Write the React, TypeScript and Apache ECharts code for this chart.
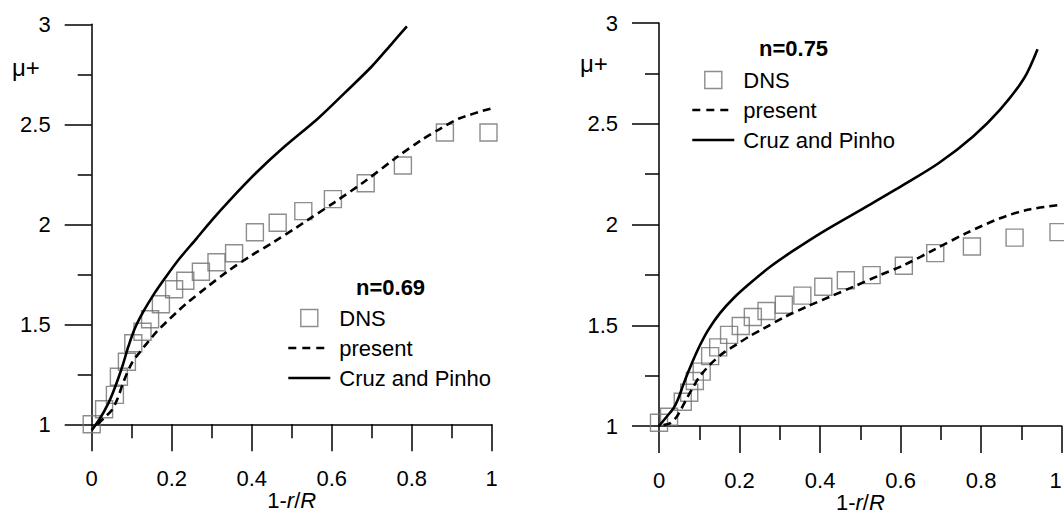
import React, { useEffect, useRef } from 'react';
import * as echarts from 'echarts';

const FONT = 'Liberation Sans, Arial, Helvetica, sans-serif';
const FS = 22;

// Panel titles
const panelTitles = ['n=0.69', 'n=0.75'];
const seriesNames = ['DNS', 'present', 'Cruz and Pinho'];

// ---- Panel 1 (n = 0.69) ----
const dnsX69 = [0, 0.031, 0.058, 0.068, 0.088, 0.104, 0.127, 0.146, 0.173, 0.206, 0.234, 0.273, 0.312, 0.356, 0.408, 0.465, 0.529, 0.603, 0.685, 0.778, 0.883, 0.992];
const dnsY69 = [1.0, 1.075, 1.147, 1.238, 1.313, 1.405, 1.463, 1.525, 1.6, 1.675, 1.718, 1.763, 1.81, 1.855, 1.96, 2.008, 2.066, 2.126, 2.205, 2.294, 2.459, 2.459];

const presX69 = [0.015, 0.03, 0.05, 0.065, 0.08, 0.1, 0.121, 0.1415, 0.1625, 0.1875, 0.2125, 0.2375, 0.2875, 0.3415, 0.3975, 0.454, 0.5125, 0.5375, 0.607, 0.683, 0.759, 0.827, 0.869, 0.92, 1.0];
const presY69 = [1.0, 1.03, 1.07, 1.13, 1.215, 1.305, 1.363, 1.413, 1.463, 1.513, 1.56, 1.605, 1.685, 1.767, 1.842, 1.91, 1.985, 2.018, 2.11, 2.215, 2.33, 2.425, 2.475, 2.53, 2.58];

const cruzX69 = [0, 0.021, 0.0415, 0.054, 0.0665, 0.079, 0.0915, 0.108, 0.129, 0.154, 0.183, 0.22, 0.2625, 0.3, 0.345, 0.4125, 0.48, 0.565, 0.632, 0.7, 0.751, 0.788];
const cruzY69 = [0.97, 1.03, 1.105, 1.163, 1.23, 1.305, 1.388, 1.48, 1.563, 1.646, 1.73, 1.83, 1.93, 2.02, 2.12, 2.26, 2.385, 2.528, 2.656, 2.789, 2.905, 2.99];

// ---- Panel 2 (n = 0.75) ----
const dnsX75 = [0, 0.025, 0.059, 0.075, 0.089, 0.106, 0.127, 0.147, 0.174, 0.203, 0.233, 0.267, 0.31, 0.356, 0.408, 0.464, 0.528, 0.608, 0.686, 0.777, 0.883, 0.992];
const dnsY75 = [1.016, 1.046, 1.12, 1.165, 1.223, 1.27, 1.347, 1.39, 1.452, 1.496, 1.541, 1.571, 1.602, 1.647, 1.691, 1.723, 1.749, 1.795, 1.858, 1.891, 1.935, 1.962];

const presX75 = [0.011, 0.027, 0.044, 0.056, 0.069, 0.081, 0.098, 0.118, 0.139, 0.164, 0.193, 0.226, 0.259, 0.309, 0.367, 0.425, 0.4825, 0.549, 0.61, 0.686, 0.763, 0.847, 0.915, 1.0];
const presY75 = [1.005, 1.013, 1.046, 1.088, 1.137, 1.179, 1.237, 1.286, 1.328, 1.369, 1.405, 1.447, 1.483, 1.538, 1.592, 1.642, 1.691, 1.749, 1.8, 1.878, 1.957, 2.031, 2.073, 2.098];

const cruzX75 = [0, 0.019, 0.036, 0.048, 0.06, 0.073, 0.085, 0.102, 0.122, 0.151, 0.185, 0.226, 0.276, 0.3335, 0.408, 0.525, 0.61, 0.695, 0.78, 0.847, 0.907, 0.94];
const cruzY75 = [1.0, 1.046, 1.088, 1.137, 1.203, 1.27, 1.328, 1.402, 1.476, 1.559, 1.634, 1.708, 1.79, 1.87, 1.965, 2.1, 2.2, 2.305, 2.437, 2.57, 2.727, 2.87];

const zip = (xs: number[], ys: number[]) => xs.map((x, i) => [x, ys[i]]);

const axisLineStyle = { color: '#000', width: 1.5 };

const mkX = (gridIndex: number, alignMax?: string) => ({
  type: 'value',
  gridIndex,
  min: 0,
  max: 1,
  interval: 0.2,
  axisLine: { show: true, onZero: false, lineStyle: axisLineStyle },
  axisTick: { show: true, inside: false, length: 27, lineStyle: axisLineStyle },
  minorTick: { show: true, splitNumber: 2, length: 14, lineStyle: axisLineStyle },
  splitLine: { show: false },
  minorSplitLine: { show: false },
  axisLabel: { margin: 43, fontSize: FS, color: '#000', fontFamily: FONT, ...(alignMax ? { alignMaxLabel: alignMax } : {}) },
  name: '{a|1-}{i|r}{a|/}{i|R}',
  nameLocation: 'middle',
  nameGap: 67,
  nameMoveOverlap: false,
  nameTextStyle: {
    fontSize: FS,
    color: '#000',
    fontFamily: FONT,
    rich: {
      a: { fontSize: FS, color: '#000', fontFamily: FONT, lineHeight: 18 },
      i: { fontSize: FS, color: '#000', fontFamily: FONT, fontStyle: 'italic', lineHeight: 18 },
    },
  },
});

const mkY = (gridIndex: number) => ({
  type: 'value',
  gridIndex,
  min: 1,
  max: 3,
  interval: 0.5,
  axisLine: { show: true, onZero: false, lineStyle: axisLineStyle },
  axisTick: { show: true, inside: false, length: 27, lineStyle: axisLineStyle },
  minorTick: { show: true, splitNumber: 2, length: 14, lineStyle: axisLineStyle },
  splitLine: { show: false },
  minorSplitLine: { show: false },
  axisLabel: { margin: 41, fontSize: FS, color: '#000', fontFamily: FONT },
});

const squareStyle = { color: 'rgba(0,0,0,0)', borderColor: '#707070', borderWidth: 1.4 };
const hiddenSymbol = { color: 'rgba(0,0,0,0)', borderColor: 'rgba(0,0,0,0)', borderWidth: 0 };

const mkSeries = (idx: number, dns: number[][], pres: number[][], cruz: number[][]) => [
  {
    name: seriesNames[0],
    type: 'scatter',
    xAxisIndex: idx,
    yAxisIndex: idx,
    symbol: 'rect',
    symbolSize: 17,
    itemStyle: squareStyle,
    clip: false,
    z: 2,
    silent: true,
    data: dns,
  },
  {
    name: seriesNames[1],
    type: 'line',
    xAxisIndex: idx,
    yAxisIndex: idx,
    symbol: 'none',
    showSymbol: false,
    smooth: 0.3,
    clip: false,
    z: 3,
    silent: true,
    lineStyle: { color: '#000', width: 2.6, type: [8, 5] },
    itemStyle: { color: '#000' },
    data: pres,
  },
  {
    name: seriesNames[2],
    type: 'line',
    xAxisIndex: idx,
    yAxisIndex: idx,
    symbol: 'none',
    showSymbol: false,
    smooth: 0.3,
    clip: false,
    z: 3,
    silent: true,
    lineStyle: { color: '#000', width: 2.6, type: 'solid' },
    itemStyle: { color: '#000' },
    data: cruz,
  },
];

// square icon drawn centred in the 42x17 legend icon box
const squareIcon = 'path://M0,0M42,17M12.5,0L29.5,0L29.5,17L12.5,17Z';

const legendData = [
  { name: seriesNames[0], icon: squareIcon, itemStyle: squareStyle },
  { name: seriesNames[1], itemStyle: hiddenSymbol, lineStyle: { width: 2.6, type: [8, 6] } },
  { name: seriesNames[2], itemStyle: hiddenSymbol, lineStyle: { width: 2.6 } },
];

const mkLegend = (left: number, top: number) => ({
  left,
  top,
  orient: 'vertical',
  padding: 0,
  itemWidth: 42,
  itemHeight: 17,
  itemGap: 8,
  selectedMode: false,
  symbolKeepAspect: true,
  textStyle: { fontSize: FS, color: '#000', fontFamily: FONT, padding: [0, 0, 0, 4] },
  data: legendData,
});

const titleStyle = { fontSize: FS, fontWeight: 'bold', color: '#000', fontFamily: FONT };

const option = {
  animation: false,
  backgroundColor: '#fff',
  grid: [
    { left: 91.7, top: 24.3, width: 400, height: 400, outerBoundsMode: 'none', containLabel: false },
    { left: 659, top: 23, width: 402.7, height: 403, outerBoundsMode: 'none', containLabel: false },
  ],
  xAxis: [mkX(0), mkX(1, 'right')],
  yAxis: [mkY(0), mkY(1)],
  title: [
    { text: panelTitles[0], left: 356, top: 276, padding: 0, textStyle: titleStyle },
    { text: panelTitles[1], left: 759, top: 37, padding: 0, textStyle: titleStyle },
  ],
  legend: [mkLegend(287, 307), mkLegend(691, 69)],
  graphic: [
    { type: 'text', x: 12, y: 67.2, silent: true, style: { text: 'μ+', fontSize: 24, fontFamily: FONT, fill: '#000', align: 'left', verticalAlign: 'middle' } },
    { type: 'text', x: 580, y: 63.7, silent: true, style: { text: 'μ+', fontSize: 24, fontFamily: FONT, fill: '#000', align: 'left', verticalAlign: 'middle' } },
  ],
  series: [
    ...mkSeries(0, zip(dnsX69, dnsY69), zip(presX69, presY69), zip(cruzX69, cruzY69)),
    ...mkSeries(1, zip(dnsX75, dnsY75), zip(presX75, presY75), zip(cruzX75, cruzY75)),
  ],
};

export default function App() {
  const ref = useRef<HTMLDivElement>(null);
  useEffect(() => {
    const chart = echarts.init(ref.current as HTMLDivElement, null, { renderer: 'svg' });
    chart.setOption(option as any);
    return () => chart.dispose();
  }, []);
  return (
    <div
      ref={ref}
      style={{ position: 'fixed', left: 0, top: 0, width: 1064, height: 514, background: '#fff' }}
    />
  );
}
